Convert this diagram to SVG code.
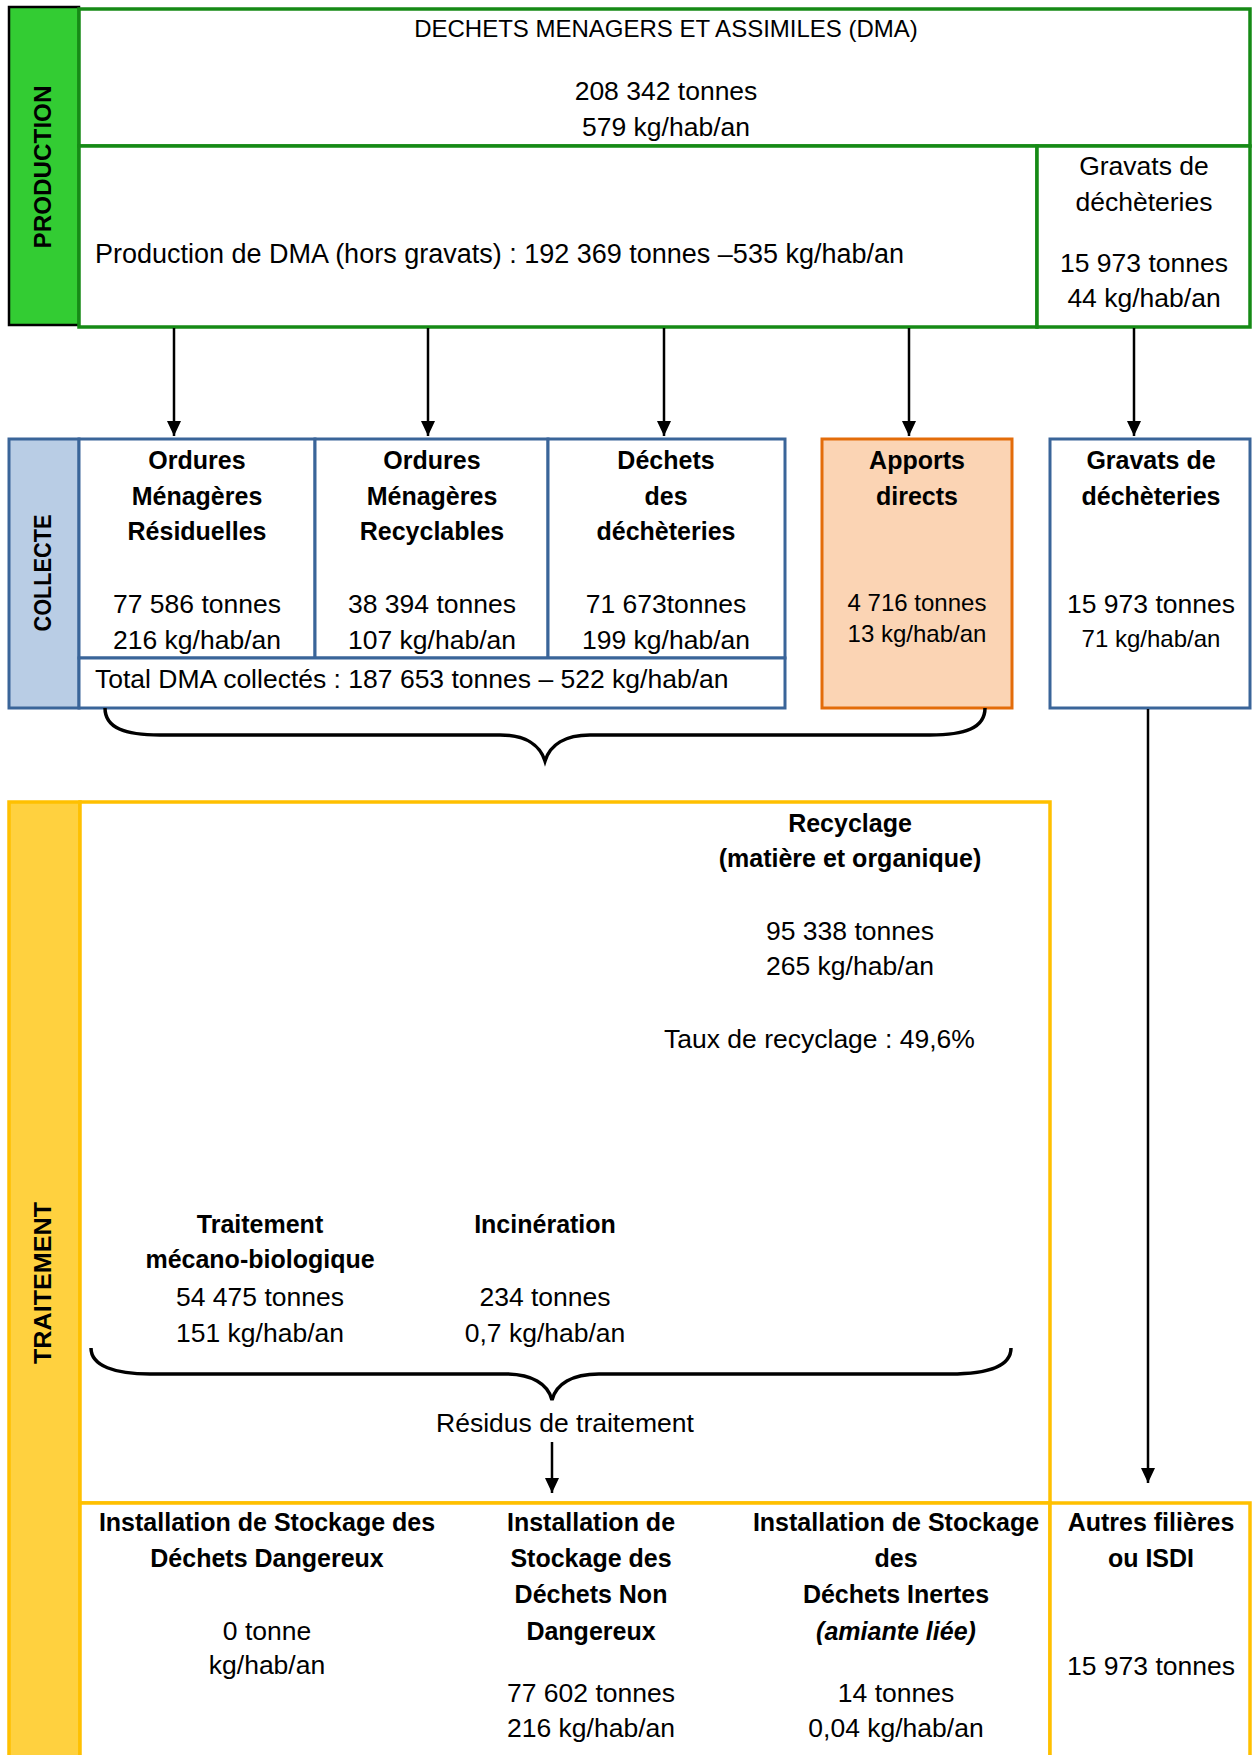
<svg xmlns="http://www.w3.org/2000/svg" width="1252" height="1755" viewBox="0 0 1252 1755">
<defs>
<style>
text{font-family:"Liberation Sans",Arial,sans-serif;fill:#000;}
.r{font-size:26.5px;text-anchor:middle;}
.rs{font-size:24px;text-anchor:middle;}
.b{font-size:25px;font-weight:bold;text-anchor:middle;}
.bi{font-size:25px;font-weight:bold;font-style:italic;text-anchor:middle;}
.l{font-size:26.5px;text-anchor:start;}
.side{font-size:24px;font-weight:bold;text-anchor:middle;}
.prod{fill:#fff;stroke:#168A16;stroke-width:3.5;}
.col{fill:#fff;stroke:#3A6599;stroke-width:3;}
.tra{fill:#fff;stroke:#FFC000;stroke-width:3.5;}
.conn{fill:none;stroke:#000;stroke-width:2.5;}
.brace{fill:none;stroke:#000;stroke-width:3.5;}
</style>
<marker id="ah" viewBox="0 0 15 14" refX="15" refY="7" markerWidth="15" markerHeight="14" markerUnits="userSpaceOnUse" orient="auto">
<path d="M0,0 L15,7 L0,14 z" fill="#000"/>
</marker>
</defs>
<rect x="0" y="0" width="1252" height="1755" fill="#fff"/>

<!-- PRODUCTION -->
<g id="production-label">
<rect x="9" y="7" width="70" height="318" fill="#33CC33" stroke="#000" stroke-width="2.5"/>
<text class="side" transform="translate(51,167) rotate(-90)" textLength="163" lengthAdjust="spacingAndGlyphs">PRODUCTION</text>
</g>
<g id="dma">
<rect class="prod" x="79" y="9" width="1171" height="137"/>
<text x="666" y="37" style="font-size:24px;text-anchor:middle">DECHETS MENAGERS ET ASSIMILES (DMA)</text>
<text class="r" x="666" y="100">208 342 tonnes</text>
<text class="r" x="666" y="136">579 kg/hab/an</text>
</g>
<g id="dma-hors-gravats">
<rect class="prod" x="79" y="146" width="958" height="181"/>
<text class="l" x="95" y="263" style="font-size:27px">Production de DMA (hors gravats) : 192 369 tonnes –535 kg/hab/an</text>
</g>
<g id="gravats-production">
<rect class="prod" x="1037" y="146" width="213" height="181"/>
<text class="r" x="1144" y="175">Gravats de</text>
<text class="r" x="1144" y="211">déchèteries</text>
<text class="r" x="1144" y="272">15 973 tonnes</text>
<text class="r" x="1144" y="307">44 kg/hab/an</text>
</g>

<!-- COLLECTE -->
<g id="collecte-label">
<rect x="9" y="439" width="70" height="269" fill="#B9CDE5" stroke="#3A6599" stroke-width="3"/>
<text class="side" transform="translate(51,573) rotate(-90)" textLength="117" lengthAdjust="spacingAndGlyphs">COLLECTE</text>
</g>
<g id="omr">
<rect class="col" x="79" y="439" width="236" height="219"/>
<text class="b" x="197" y="469">Ordures</text>
<text class="b" x="197" y="505">Ménagères</text>
<text class="b" x="197" y="540">Résiduelles</text>
<text class="r" x="197" y="613">77 586 tonnes</text>
<text class="r" x="197" y="649">216 kg/hab/an</text>
</g>
<g id="omrec">
<rect class="col" x="315" y="439" width="233" height="219"/>
<text class="b" x="432" y="469">Ordures</text>
<text class="b" x="432" y="505">Ménagères</text>
<text class="b" x="432" y="540">Recyclables</text>
<text class="r" x="432" y="613">38 394 tonnes</text>
<text class="r" x="432" y="649">107 kg/hab/an</text>
</g>
<g id="decheteries">
<rect class="col" x="548" y="439" width="237" height="219"/>
<text class="b" x="666" y="469">Déchets</text>
<text class="b" x="666" y="505">des</text>
<text class="b" x="666" y="540">déchèteries</text>
<text class="r" x="666" y="613">71 673tonnes</text>
<text class="r" x="666" y="649">199 kg/hab/an</text>
</g>
<g id="total-collecte">
<rect class="col" x="79" y="658" width="706" height="50"/>
<text class="l" x="95" y="688">Total DMA collectés : 187 653 tonnes – 522 kg/hab/an</text>
</g>
<g id="apports">
<rect x="822" y="439" width="190" height="269" fill="#FBD4B4" stroke="#E36C0A" stroke-width="3"/>
<text class="b" x="917" y="469">Apports</text>
<text class="b" x="917" y="505">directs</text>
<text class="rs" x="917" y="611">4 716 tonnes</text>
<text class="rs" x="917" y="642">13 kg/hab/an</text>
</g>
<g id="gravats-collecte">
<rect class="col" x="1050" y="439" width="200" height="269"/>
<text class="b" x="1151" y="469">Gravats de</text>
<text class="b" x="1151" y="505">déchèteries</text>
<text class="r" x="1151" y="613">15 973 tonnes</text>
<text class="rs" x="1151" y="647">71 kg/hab/an</text>
</g>

<!-- TRAITEMENT -->
<g id="traitement-label">
<rect x="9" y="802" width="71" height="970" fill="#FFD13F" stroke="#FFC000" stroke-width="3.5"/>
<text class="side" transform="translate(51,1283) rotate(-90)" textLength="162" lengthAdjust="spacingAndGlyphs">TRAITEMENT</text>
</g>
<g id="traitement">
<rect class="tra" x="80" y="802" width="970" height="701"/>
</g>
<g id="recyclage">
<text class="b" x="850" y="832">Recyclage</text>
<text class="b" x="850" y="867">(matière et organique)</text>
<text class="r" x="850" y="940">95 338 tonnes</text>
<text class="r" x="850" y="975">265 kg/hab/an</text>
<text class="l" x="664" y="1048">Taux de recyclage : 49,6%</text>
</g>
<g id="tmb">
<text class="b" x="260" y="1233">Traitement</text>
<text class="b" x="260" y="1268">mécano-biologique</text>
<text class="r" x="260" y="1306">54 475 tonnes</text>
<text class="r" x="260" y="1342">151 kg/hab/an</text>
</g>
<g id="incineration">
<text class="b" x="545" y="1233">Incinération</text>
<text class="r" x="545" y="1306">234 tonnes</text>
<text class="r" x="545" y="1342">0,7 kg/hab/an</text>
</g>
<g id="residus">
<text class="r" x="565" y="1432">Résidus de traitement</text>
</g>
<g id="stockage">
<rect class="tra" x="80" y="1503" width="970" height="270"/>
</g>
<g id="isdd">
<text class="b" x="267" y="1531">Installation de Stockage des</text>
<text class="b" x="267" y="1567">Déchets Dangereux</text>
<text class="r" x="267" y="1640">0 tonne</text>
<text class="r" x="267" y="1674">kg/hab/an</text>
</g>
<g id="isdnd">
<text class="b" x="591" y="1531">Installation de</text>
<text class="b" x="591" y="1567">Stockage des</text>
<text class="b" x="591" y="1603">Déchets Non</text>
<text class="b" x="591" y="1640">Dangereux</text>
<text class="r" x="591" y="1702">77 602 tonnes</text>
<text class="r" x="591" y="1737">216 kg/hab/an</text>
</g>
<g id="isdi">
<text class="b" x="896" y="1531">Installation de Stockage</text>
<text class="b" x="896" y="1567">des</text>
<text class="b" x="896" y="1603">Déchets Inertes</text>
<text class="bi" x="896" y="1640">(amiante liée)</text>
<text class="r" x="896" y="1702">14 tonnes</text>
<text class="r" x="896" y="1737">0,04 kg/hab/an</text>
</g>
<g id="autres">
<rect class="tra" x="1050" y="1503" width="200" height="270"/>
<text class="b" x="1151" y="1531">Autres filières</text>
<text class="b" x="1151" y="1567">ou ISDI</text>
<text class="r" x="1151" y="1675">15 973 tonnes</text>
</g>

<!-- CONNECTORS -->
<g id="connectors">
<line class="conn" x1="174" y1="328" x2="174" y2="436" marker-end="url(#ah)"/>
<line class="conn" x1="428" y1="328" x2="428" y2="436" marker-end="url(#ah)"/>
<line class="conn" x1="664" y1="328" x2="664" y2="436" marker-end="url(#ah)"/>
<line class="conn" x1="909" y1="328" x2="909" y2="436" marker-end="url(#ah)"/>
<line class="conn" x1="1134" y1="328" x2="1134" y2="436" marker-end="url(#ah)"/>
<line class="conn" x1="1148" y1="709" x2="1148" y2="1483" marker-end="url(#ah)"/>
<line class="conn" x1="552" y1="1442" x2="552" y2="1493" marker-end="url(#ah)"/>
<path class="brace" d="M105,708 C105,728 125,735 160,735 L500,735 C525,735 540,745 545,761 C550,745 565,735 590,735 L930,735 C965,735 985,728 985,708"/>
<path class="brace" d="M91,1348 C91,1366 115,1374 150,1374 L505,1374 C532,1374 548,1384 552,1400 C556,1384 572,1374 599,1374 L950,1374 C990,1374 1011,1366 1011,1348"/>
</g>
</svg>
